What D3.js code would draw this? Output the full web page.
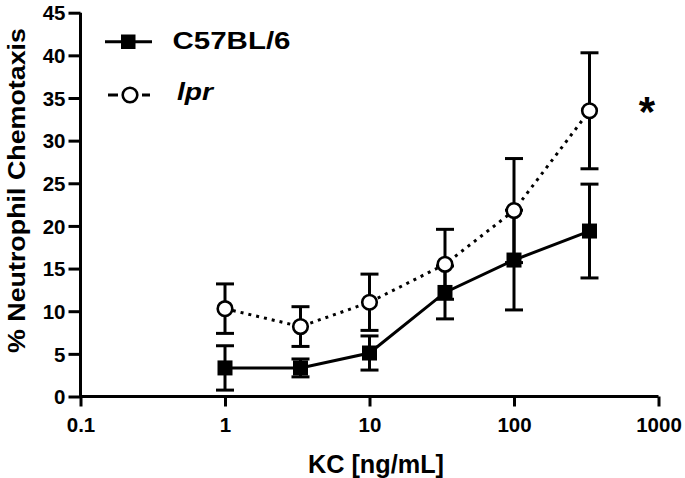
<!DOCTYPE html>
<html><head><meta charset="utf-8">
<script src="https://cdn.jsdelivr.net/npm/d3@7"></script>
<style>
body{margin:0;background:#fff;}
text{font-family:"Liberation Sans",Arial,Helvetica,sans-serif;font-weight:bold;fill:#000;}
</style></head>
<body><svg id="c" width="685" height="478"></svg>
<script>
const doses = [1, 3.33, 10, 33.3, 100, 333];
const c57Mean = [3.35, 3.35, 5.1, 12.2, 16.0, 19.4];
const c57Err  = [2.6, 1.05, 2.0, 3.1, 5.85, 5.5];
const lprMean = [10.3, 8.2, 11.05, 15.5, 21.8, 33.5];
const lprErr  = [2.9, 2.33, 3.3, 4.1, 6.1, 6.8];
const xTicks = [0.1, 1, 10, 100, 1000];
const xTickLabels = ["0.1", "1", "10", "100", "1000"];
const yTicks = [0, 5, 10, 15, 20, 25, 30, 35, 40, 45];
const seriesNames = ["C57BL/6", "lpr"];

const svg = d3.select("#c");
const x = d3.scaleLog().domain([0.1, 1000]).range([80.5, 658.5]);
const y = d3.scaleLinear().domain([0, 45]).range([396.5, 12.7]);
const SW = 3;

// axes
const yAx = svg.append("g").attr("transform", "translate(80.5,0)")
  .call(d3.axisLeft(y).tickValues(yTicks).tickSize(12).tickPadding(3).tickFormat(d3.format("d")));
const xAx = svg.append("g").attr("transform", "translate(0,396.5)")
  .call(d3.axisBottom(x).tickValues(xTicks).tickSize(10).tickPadding(10.5).tickFormat((d,i)=>xTickLabels[i]));
[yAx, xAx].forEach(g => {
  g.select(".domain").attr("stroke", "#000").attr("stroke-width", SW);
  g.selectAll(".tick line").attr("stroke", "#000").attr("stroke-width", SW);
  g.selectAll(".tick text").style("font-size", "20.5px").attr("fill", "#000");
});
yAx.select(".domain").attr("d", `M0,${y(0)+1.5}V${y(45)}`);
xAx.select(".domain").attr("d", `M${x(0.1)-1.5},0H${x(1000)}`);
yAx.selectAll(".tick text").attr("dy", "0.35em");

// axis titles
svg.append("text").attr("x", 376).attr("y", 472.5).attr("text-anchor", "middle")
  .attr("textLength", 136).attr("lengthAdjust", "spacingAndGlyphs")
  .style("font-size", "25px").text("KC [ng/mL]");
svg.append("text").attr("transform", "translate(25,190.5) rotate(-90)").attr("text-anchor", "middle")
  .attr("textLength", 325).attr("lengthAdjust", "spacingAndGlyphs")
  .style("font-size", "23.5px").text("% Neutrophil Chemotaxis");

const line = d3.line().x(d => x(d[0])).y(d => y(d[1]));
const capW = 9;
function errorBars(means, errs) {
  const g = svg.append("g").attr("stroke", "#000").attr("stroke-width", SW);
  doses.forEach((d, i) => {
    const cx = x(d), hi = y(means[i] + errs[i]), lo = y(means[i] - errs[i]);
    g.append("line").attr("x1", cx).attr("x2", cx).attr("y1", hi).attr("y2", lo);
    g.append("line").attr("x1", cx - capW).attr("x2", cx + capW).attr("y1", hi).attr("y2", hi);
    g.append("line").attr("x1", cx - capW).attr("x2", cx + capW).attr("y1", lo).attr("y2", lo);
  });
}
errorBars(lprMean, lprErr);
errorBars(c57Mean, c57Err);

const lprPts = doses.map((d, i) => [d, lprMean[i]]);
const c57Pts = doses.map((d, i) => [d, c57Mean[i]]);
svg.append("path").attr("d", line(lprPts)).attr("fill", "none").attr("stroke", "#000")
  .attr("stroke-width", SW).attr("stroke-dasharray", "3 5");
svg.append("path").attr("d", line(c57Pts)).attr("fill", "none").attr("stroke", "#000")
  .attr("stroke-width", SW);

svg.selectAll("circle.lpr").data(lprPts).join("circle").attr("class", "lpr")
  .attr("cx", d => x(d[0])).attr("cy", d => y(d[1])).attr("r", 7.3)
  .attr("fill", "#fff").attr("stroke", "#000").attr("stroke-width", 2.6);
const sq = 15;
svg.selectAll("rect.c57").data(c57Pts).join("rect").attr("class", "c57")
  .attr("x", d => x(d[0]) - sq/2).attr("y", d => y(d[1]) - sq/2)
  .attr("width", sq).attr("height", sq).attr("fill", "#000");

// legend
svg.append("line").attr("x1", 105).attr("x2", 152).attr("y1", 41.7).attr("y2", 41.7)
  .attr("stroke", "#000").attr("stroke-width", SW);
svg.append("rect").attr("x", 121).attr("y", 34.5).attr("width", 14.5).attr("height", 14.5).attr("fill", "#000");
svg.append("text").attr("x", 172.5).attr("y", 49.3).style("font-size", "23.5px")
  .attr("textLength", 118).attr("lengthAdjust", "spacingAndGlyphs").text(seriesNames[0]);
svg.append("line").attr("x1", 108).attr("x2", 150).attr("y1", 95).attr("y2", 95)
  .attr("stroke", "#000").attr("stroke-width", SW).attr("stroke-dasharray", "10 24 8");
svg.append("circle").attr("cx", 130).attr("cy", 95).attr("r", 7.3)
  .attr("fill", "#fff").attr("stroke", "#000").attr("stroke-width", 2.6);
svg.append("text").attr("x", 177).attr("y", 100).style("font-size", "23.5px").style("font-style", "italic")
  .attr("textLength", 36).attr("lengthAdjust", "spacingAndGlyphs").text(seriesNames[1]);

// significance
svg.append("text").attr("x", 647).attr("y", 126).attr("text-anchor", "middle")
  .style("font-size", "42px").text("*");
</script></body></html>
